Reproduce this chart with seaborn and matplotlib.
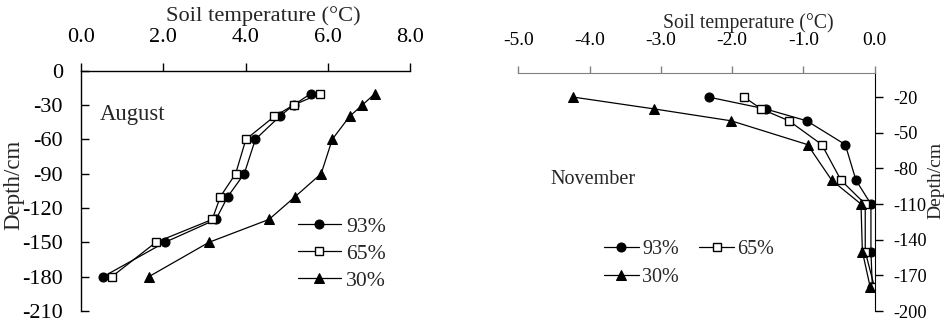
import matplotlib
matplotlib.use("Agg")
import matplotlib.pyplot as plt
import seaborn as sns
import numpy as np

# ---- data ----
aug_depth = [-20, -30, -40, -60, -90, -110, -130, -150, -180]
aug_93 = [5.59, 5.17, 4.83, 4.24, 3.97, 3.57, 3.28, 2.04, 0.54]
aug_65 = [5.82, 5.17, 4.70, 4.01, 3.76, 3.39, 3.19, 1.82, 0.75]
aug_30 = [7.15, 6.84, 6.53, 6.11, 5.84, 5.21, 4.57, 3.11, 1.65]

nov_depth = [-20, -30, -40, -60, -90, -110, -150, -180]
nov_93 = [-2.33, -1.53, -0.95, -0.41, -0.26, -0.05, -0.05, -0.03]
nov_65 = [-1.83, -1.59, -1.20, -0.74, -0.47, -0.13, -0.13, 0.0]
nov_30 = [-4.23, -3.09, -2.01, -0.94, -0.60, -0.19, -0.17, -0.06]

series_labels = ["93%", "65%", "30%"]
aug_xticks = [0.0, 2.0, 4.0, 6.0, 8.0]
aug_yticks = list(range(0, -211, -30))
nov_xticks = [-5.0, -4.0, -3.0, -2.0, -1.0, 0.0]
nov_yticks = list(range(-200, 0, 30))

sns.set_style("ticks")
plt.rcParams["font.family"] = ["Liberation Serif", "DejaVu Serif"]
plt.rcParams["axes.unicode_minus"] = False

FSL = 16.0   # left panel tick labels
FSR = 14.0   # right panel x tick labels
fig = plt.figure(figsize=(9.47, 3.24), dpi=100)
W, H = 947.0, 324.0
axL = fig.add_axes([81 / W, 1 - 311 / H, 329 / W, (311 - 70.7) / H])
axR = fig.add_axes([518.3 / W, 1 - 311 / H, 356.2 / W, (311 - 73.3) / H])

styles = [
    dict(marker="o", markerfacecolor="black", markeredgecolor="black", markersize=6.5),
    dict(marker="s", markerfacecolor="white", markeredgecolor="black", markersize=6, markeredgewidth=1.0),
    dict(marker="^", markerfacecolor="black", markeredgecolor="black", markersize=7.5),
]

def draw(ax, depth, vals_list):
    for vals, lab, st in zip(vals_list, series_labels, styles):
        sns.lineplot(x=vals, y=depth, ax=ax, sort=False, estimator=None,
                     color="black", linewidth=0.9, label=lab, **st)

draw(axL, aug_depth, [aug_93, aug_65, aug_30])
draw(axR, nov_depth, [nov_93, nov_65, nov_30])

# ---- left axes ----
axL.set_xlim(0, 8)
axL.set_ylim(-210, 0)
axL.xaxis.tick_top()
axL.set_xticks(aug_xticks)
axL.set_xticklabels([f"{v:.1f}" for v in aug_xticks])
axL.set_yticks(aug_yticks)
axL.set_yticklabels([str(v) for v in aug_yticks])
for s in ["right", "bottom"]:
    axL.spines[s].set_visible(False)
for s in ["left", "top"]:
    axL.spines[s].set_color("black")
    axL.spines[s].set_linewidth(1.0)
axL.tick_params(axis="x", direction="out", length=6, width=1.0, pad=11, labelsize=FSL, colors="black")
axL.tick_params(axis="y", direction="in", length=6, width=1.0, pad=13, labelsize=FSL, colors="black")
axL.set_xlabel("Soil temperature (°C)", fontsize=16.2)
axL.xaxis.set_label_position("top")
axL.xaxis.set_label_coords(0.555, 1.228)
axL.xaxis.label.set_va("center")
axL.set_ylabel("Depth/cm", fontsize=16.5)
axL.yaxis.set_label_coords(-0.205, 0.524)
axL.yaxis.label.set_va("center")
axL.text(0.46, -38.7, "August", fontsize=16.3, va="center", ha="left")
axL.legend(loc="upper left", bbox_to_anchor=(0.66, 0.392), frameon=False, fontsize=15.7,
           handlelength=1.95, handletextpad=0.25, labelspacing=0.3, borderpad=0, borderaxespad=0)

# ---- right axes ----
axR.set_xlim(-5, 0)
axR.set_ylim(-200, 0)
axR.xaxis.tick_top()
axR.yaxis.tick_right()
axR.yaxis.set_label_position("right")
axR.set_xticks(nov_xticks)
axR.set_xticklabels([f"{v:.1f}" for v in nov_xticks])
axR.set_yticks(nov_yticks)
axR.set_yticklabels([str(v) for v in nov_yticks])
for s in ["left", "bottom"]:
    axR.spines[s].set_visible(False)
axR.spines["right"].set_color("black")
axR.spines["top"].set_color("#808080")
axR.tick_params(axis="x", direction="out", length=5, width=1.0, pad=12.5, labelsize=FSR, color="#808080", labelcolor="black")
axR.tick_params(axis="y", direction="out", length=6, width=1.0, pad=7.5, labelsize=13.2, colors="black")
axR.set_xlabel("Soil temperature (°C)", fontsize=14.2)
axR.xaxis.set_label_position("top")
axR.xaxis.set_label_coords(0.645, 1.21)
axR.xaxis.label.set_va("center")
axR.set_ylabel("Depth/cm", fontsize=14)
axR.yaxis.set_label_coords(1.171, 0.55)
axR.yaxis.label.set_va("center")
axR.text(-4.555, -89, "November", fontsize=14.5, va="center", ha="left")
hR, lR = axR.get_legend_handles_labels()
order = [0, 2, 1]
axR.legend([hR[i] for i in order], [lR[i] for i in order],
           loc="upper left", bbox_to_anchor=(0.24, 0.300), frameon=False, fontsize=14.5, ncol=2,
           handlelength=1.75, handletextpad=0.15, labelspacing=0.45, columnspacing=1.0,
           borderpad=0, borderaxespad=0)

fig.savefig("out.png", dpi=100)
